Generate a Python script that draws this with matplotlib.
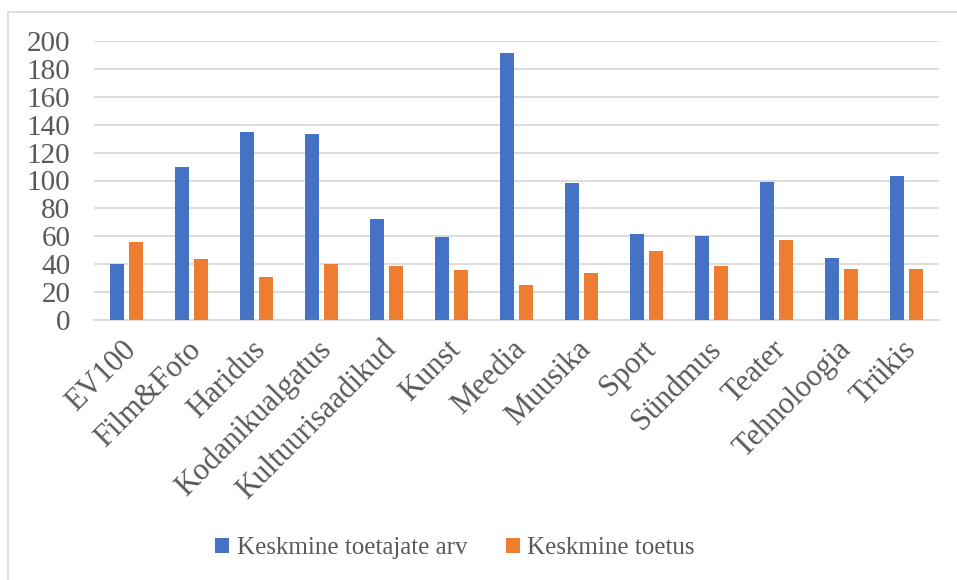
import numpy as np
import matplotlib
matplotlib.use("Agg")
import matplotlib.pyplot as plt
import matplotlib.transforms as mtransforms
from matplotlib.lines import Line2D

categories = ["EV100", "Film&Foto", "Haridus", "Kodanikualgatus", "Kultuurisaadikud",
              "Kunst", "Meedia", "Muusika", "Sport", "Sündmus", "Teater",
              "Tehnoloogia", "Trükis"]
supporters = [40, 110, 135, 133, 72.5, 59.5, 191, 98.5, 62, 60, 99, 44.5, 103]
support = [56, 43.5, 31, 40.5, 39, 36, 25.5, 34, 49.5, 38.5, 57.5, 37, 36.5]
series_names = ["Keskmine toetajate arv", "Keskmine toetus"]
yticks = list(range(0, 201, 20))

BLUE = "#4472c4"
ORANGE = "#ed7d31"
GRID = "#d9d9d9"
TEXT = "#595959"

plt.rcParams["font.family"] = ["Liberation Serif", "DejaVu Serif"]

W, H = 957, 580
fig = plt.figure(figsize=(W / 100, H / 100), dpi=100)
ax = fig.add_axes([94 / W, 1 - 320.3 / H, (939 - 94) / W, (320.3 - 40.7) / H])

x = np.arange(len(categories))
bw = 0.226
ax.bar(x - 0.145, supporters, width=bw, color=BLUE, label=series_names[0], zorder=3)
ax.bar(x + 0.145, support, width=bw, color=ORANGE, label=series_names[1], zorder=3)

ax.set_xlim(-0.5, len(categories) - 0.5)
ax.set_ylim(0, 200)
ax.set_yticks(yticks)
ax.yaxis.grid(True, color=GRID, lw=1.3, zorder=0)
for s in ["left", "right", "top"]:
    ax.spines[s].set_visible(False)
ax.spines["bottom"].set_color(GRID)
ax.spines["bottom"].set_linewidth(1.3)
ax.tick_params(axis="both", length=0, colors=TEXT, labelsize=21)
ax.tick_params(axis="y", pad=17)
ax.set_xticks(x)
ax.set_xticklabels(categories, rotation=45, ha="right", va="center",
                   rotation_mode="anchor", fontsize=22)
ax.tick_params(axis="x", pad=18)
shift = mtransforms.ScaledTranslation(5 / 100, 0, fig.dpi_scale_trans)
for lab in ax.get_xticklabels():
    lab.set_transform(lab.get_transform() + shift)

fig.legend(loc="center", bbox_to_anchor=(455 / W, 1 - 548 / H), ncol=2, frameon=False,
           fontsize=18, labelcolor=TEXT, handlelength=0.55, handleheight=0.55,
           handletextpad=0.3, columnspacing=1.55)

# chart border (only left and top visible in the crop)
fig.add_artist(Line2D([8 / W, 8 / W], [0, 1 - 12 / H], transform=fig.transFigure,
                      color=GRID, lw=1.3))
fig.add_artist(Line2D([8 / W, 1], [1 - 12 / H, 1 - 12 / H], transform=fig.transFigure,
                      color=GRID, lw=1.3))

fig.savefig("out.png", dpi=100)
